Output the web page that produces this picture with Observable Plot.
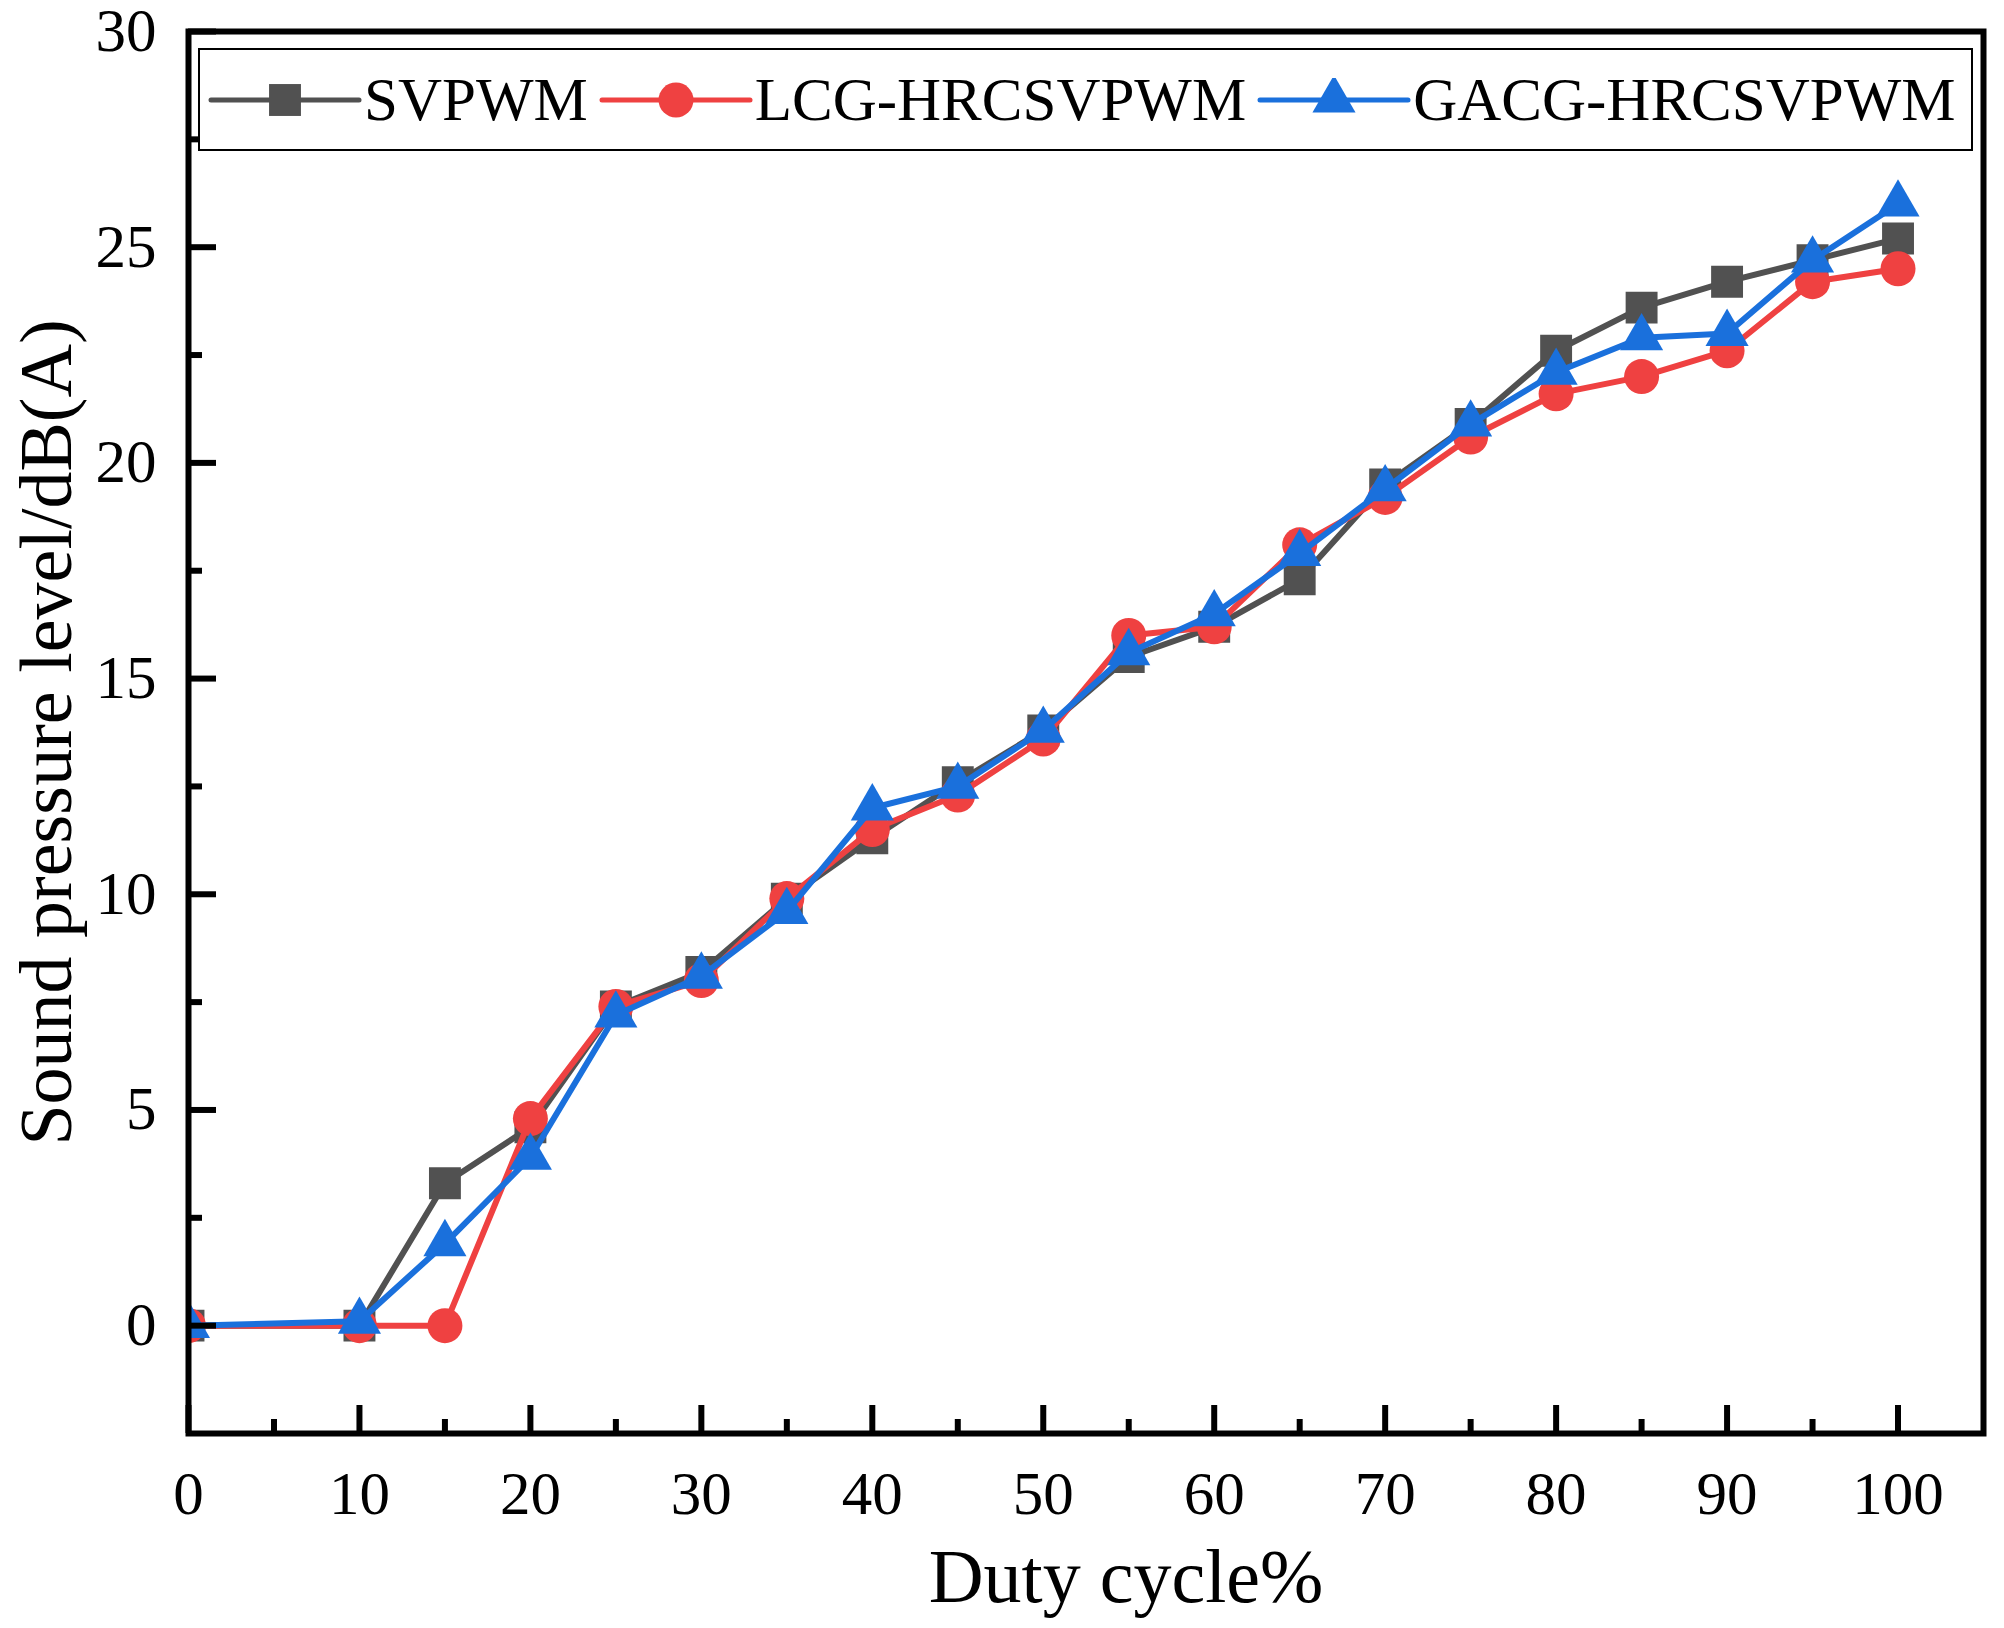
<!DOCTYPE html>
<html>
<head>
<meta charset="utf-8">
<script src="https://cdn.jsdelivr.net/npm/d3@7"></script>
<script src="https://cdn.jsdelivr.net/npm/@observablehq/plot@0.6"></script>
<style>
  body { margin: 0; background: #fff; }
  #wrap { position: relative; width: 2004px; height: 1628px; font-family: "Liberation Serif", "Times New Roman", serif; }
  #legend {
    position: absolute; left: 198px; top: 48px; width: 1775px; height: 103px;
    box-sizing: border-box; border: 2.5px solid #000; background: #fff;
    display: flex; align-items: center; padding-left: 8px; gap: 11px;
  }
  .item { display: flex; align-items: center; }
  .item span { font-size: 61px; line-height: 1; margin-left: 2px; color: #000; }
</style>
</head>
<body>
<div id="wrap">
  <div id="chart"></div>
  <div id="legend"></div>
</div>
<script>
// duty cycle (%)
const duty = [0, 10, 15, 20, 25, 30, 35, 40, 45, 50, 55, 60, 65, 70, 75, 80, 85, 90, 95, 100]

// sound pressure level dB(A)
const svpwm = [0, 0, 3.3, 4.6, 7.4, 8.2, 9.9, 11.3, 12.6, 13.8, 15.5, 16.2, 17.3, 19.5, 20.9, 22.6, 23.6, 24.2, 24.7, 25.2]
const lcg   = [0, 0, 0, 4.8, 7.4, 8.0, 9.9, 11.5, 12.3, 13.6, 16.0, 16.2, 18.1, 19.2, 20.6, 21.6, 22.0, 22.6, 24.2, 24.5]
const gacg  = [0, 0.1, 1.9, 3.9, 7.2, 8.1, 9.6, 12.0, 12.5, 13.8, 15.6, 16.5, 17.9, 19.4, 20.9, 22.1, 22.9, 23.0, 24.7, 26.0]

const seriesNames = ["SVPWM", "LCG-HRCSVPWM", "GACG-HRCSVPWM"]
const seriesColors = ["#515151", "#ef4141", "#1a70dc"]
const seriesSymbols = ["square", "circle", "triangle"]
const seriesR = [18, 17.5, 16]

const xMajor = d3.range(0, 101, 10)
const xMinor = d3.range(5, 100, 10)
const yMajor = d3.range(0, 31, 5)
const yMinor = d3.range(2.5, 30, 5)

const W = 2004, H = 1628
const mL = 188, mR = 21, mT = 31, mB = 195
const innerW = W - mL - mR, innerH = H - mT - mB

const table = [svpwm, lcg, gacg].map((vals, s) =>
  duty.map((d, i) => ({duty: d, spl: vals[i], series: seriesNames[s]}))
)

const seriesMarks = table.flatMap((rows, s) => [
  Plot.line(rows, {x: "duty", y: "spl", stroke: seriesColors[s], strokeWidth: 6, clip: true}),
  Plot.dot(rows, {x: "duty", y: "spl", fill: seriesColors[s], symbol: seriesSymbols[s],
    r: seriesR[s], stroke: "none", clip: true})
])

const chart = Plot.plot({
  width: W, height: H,
  marginLeft: mL, marginRight: mR, marginTop: mT, marginBottom: mB,
  style: {fontFamily: "'Liberation Serif', 'Times New Roman', serif", fontSize: "61px", color: "#000", background: "#fff"},
  x: {domain: [0, 105], axis: null},
  y: {domain: [-2.5, 30], axis: null},
  marks: [
    ...seriesMarks,
    // inward ticks
    Plot.tickX(xMajor, {x: d => d, insetTop: innerH - 28, stroke: "#000", strokeWidth: 6}),
    Plot.tickX(xMinor, {x: d => d, insetTop: innerH - 14, stroke: "#000", strokeWidth: 6}),
    Plot.tickY(yMajor, {y: d => d, insetRight: innerW - 28, stroke: "#000", strokeWidth: 6}),
    Plot.tickY(yMinor, {y: d => d, insetRight: innerW - 14, stroke: "#000", strokeWidth: 6}),
    Plot.axisX({ticks: xMajor, tickSize: 0, tickPadding: 37, label: null, fontSize: 61}),
    Plot.axisY({ticks: yMajor, tickSize: 0, tickPadding: 32, label: null, fontSize: 61}),
    Plot.frame({stroke: "#000", strokeWidth: 6}),
    Plot.text(["Duty cycle%"], {frameAnchor: "bottom", lineAnchor: "middle", textAnchor: "middle",
      dy: 144, dx: 40, fontSize: 76, fill: "#000"}),
    Plot.text(["Sound pressure level/dB(A)"], {frameAnchor: "left", lineAnchor: "middle", textAnchor: "middle",
      rotate: -90, dx: -141, fontSize: 74, fill: "#000"})
  ]
})

d3.select('#chart').append(() => chart)

// legend inside the frame
const legend = d3.select('#legend')
const legendSymbols = [d3.symbolSquare, d3.symbolCircle, d3.symbolTriangle]
seriesNames.forEach((name, s) => {
  const item = legend.append('div').attr('class', 'item')
  const sw = item.append('svg').attr('width', 154).attr('height', 44)
  sw.append('line').attr('x1', 3).attr('x2', 151).attr('y1', 22).attr('y2', 22)
    .attr('stroke', seriesColors[s]).attr('stroke-width', 5).attr('stroke-linecap', 'round')
  sw.append('path')
    .attr('d', d3.symbol(legendSymbols[s], Math.PI * seriesR[s] * seriesR[s])())
    .attr('transform', 'translate(77,22)')
    .attr('fill', seriesColors[s])
  item.append('span').text(name)
})
</script>
</body>
</html>
